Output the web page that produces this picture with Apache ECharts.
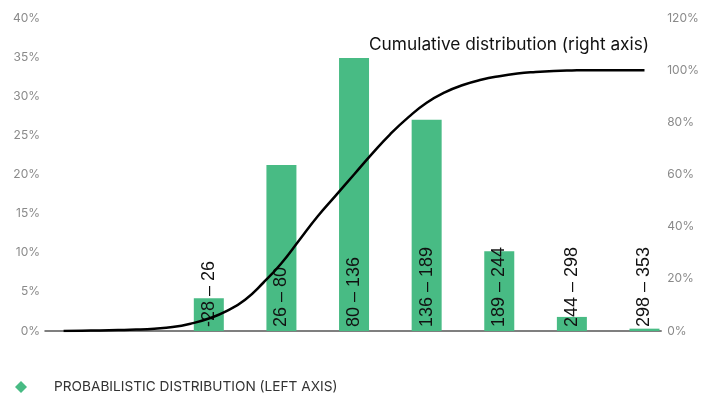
<!DOCTYPE html>
<html>
<head>
<meta charset="utf-8">
<script src="https://cdn.jsdelivr.net/npm/echarts@6/dist/echarts.min.js"></script>
<style>
  html, body { margin: 0; padding: 0; background: #fff; }
  #chart { width: 702px; height: 394px; }
</style>
</head>
<body>
<div id="chart"></div>
<script>
// Bins of the distribution and their probability (left axis, %)
const binLabels = ['-28 – 26', '26 – 80', '80 – 136', '136 – 189', '189 – 244', '244 – 298', '298 – 353'];
const binProb = [4.2, 21.2, 34.9, 27.0, 10.2, 1.8, 0.3];

// Cumulative distribution (right axis, %), every quarter bin in bin-index units
const cumX = [-2, -1.75, -1.5, -1.25, -1, -0.75, -0.5, -0.25, 0, 0.25, 0.5, 0.75, 1, 1.25, 1.5, 1.75,
  2, 2.25, 2.5, 2.75, 3, 3.25, 3.5, 3.75, 4, 4.25, 4.5, 4.75, 5, 5.25, 5.5, 5.75, 6];
const cumPct = [0, 0.1, 0.2, 0.35, 0.55, 0.9, 1.5, 2.8, 4.8, 7.7, 12, 18.5, 26, 35, 44, 52,
  60, 68, 75.5, 82, 87.5, 91.5, 94.3, 96.3, 97.7, 98.7, 99.3, 99.7, 99.9, 100, 100, 100, 100];

// Axis ticks
const leftTicks = { min: 0, max: 40, interval: 5 };
const rightTicks = { min: 0, max: 120, interval: 20 };

const GREEN = '#48bb84';
const GREY = '#8a8a8a';

const chart = echarts.init(document.getElementById('chart'), null, { renderer: 'canvas' });

chart.setOption({
  animation: false,
  backgroundColor: '#ffffff',
  grid: { left: 45, right: 39, top: 18, bottom: 63, containLabel: false },
  legend: {
    data: [{ name: 'PROBABILISTIC DISTRIBUTION (LEFT AXIS)', icon: 'diamond' }],
    left: 10,
    top: 375,
    itemWidth: 12,
    itemHeight: 12,
    textStyle: { fontFamily: 'Inter', fontSize: 13.7, color: '#333', padding: [0, 0, 0, 22] }
  },
  graphic: [{
    type: 'text',
    left: 369,
    top: 36,
    style: {
      text: 'Cumulative distribution (right axis)',
      font: '17.3px Inter',
      fill: '#111'
    }
  }],
  xAxis: {
    type: 'value',
    min: -2.256,
    max: 6.23,
    axisLine: { show: true, onZero: false, lineStyle: { color: '#555', width: 1.5 } },
    axisTick: { show: false },
    axisLabel: { show: false },
    splitLine: { show: false }
  },
  yAxis: [{
    type: 'value',
    min: leftTicks.min,
    max: leftTicks.max,
    interval: leftTicks.interval,
    position: 'left',
    axisLine: { show: false },
    axisTick: { show: false },
    splitLine: { show: false },
    axisLabel: { formatter: '{value}%', color: GREY, fontFamily: 'Inter', fontSize: 12, margin: 5 }
  }, {
    type: 'value',
    min: rightTicks.min,
    max: rightTicks.max,
    interval: rightTicks.interval,
    position: 'right',
    axisLine: { show: false },
    axisTick: { show: false },
    splitLine: { show: false },
    axisLabel: { formatter: '{value}%', color: GREY, fontFamily: 'Inter', fontSize: 12, margin: 6 }
  }],
  series: [{
    name: 'PROBABILISTIC DISTRIBUTION (LEFT AXIS)',
    type: 'bar',
    yAxisIndex: 0,
    barWidth: 30,
    itemStyle: { color: GREEN },
    data: binProb.map((v, i) => [i, v]),
    label: {
      show: true,
      position: 'insideBottom',
      distance: 4,
      rotate: 90,
      align: 'left',
      verticalAlign: 'middle',
      color: '#111',
      fontFamily: 'Liberation Sans',
      fontSize: 18,
      formatter: (p) => binLabels[p.dataIndex]
    },
    z: 2
  }, {
    name: 'Cumulative distribution',
    type: 'line',
    yAxisIndex: 1,
    smooth: 0.5,
    showSymbol: false,
    lineStyle: { color: '#000', width: 2.5 },
    data: cumX.map((x, i) => [x, cumPct[i]]),
    z: 3
  }]
});
</script>
</body>
</html>
